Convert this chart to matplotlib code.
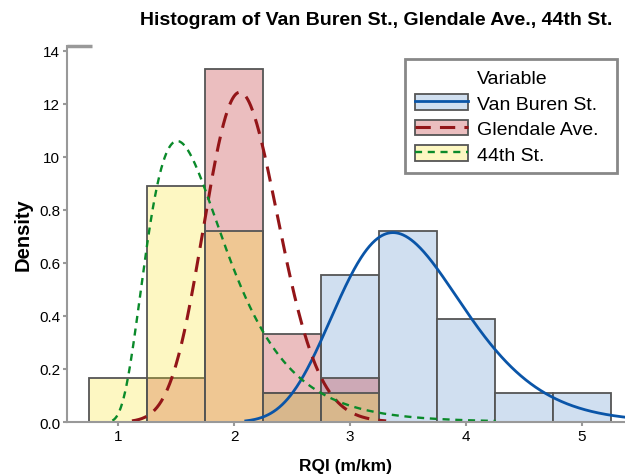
import numpy as np
import matplotlib
matplotlib.use("Agg")
import matplotlib.pyplot as plt
from matplotlib.patches import Patch
from matplotlib.lines import Line2D

plt.rcParams['font.family'] = ['Liberation Sans', 'DejaVu Sans']

# histogram bins (RQI, m/km)
bin_edges = [0.75, 1.25, 1.75, 2.25, 2.75, 3.25, 3.75, 4.25, 4.75, 5.25]

# density per bin for each road
van_buren = [0, 0, 0, 0.111, 0.556, 0.722, 0.389, 0.111, 0.111]
glendale = [0, 0.167, 1.333, 0.333, 0.167, 0, 0, 0, 0]
forty_fourth = [0.167, 0.889, 0.722, 0.111, 0.111, 0, 0, 0, 0]

# 3-parameter lognormal fits: threshold, log-location, log-scale
van_buren_fit = (0.8, 0.989, 0.2125)
glendale_fit = (-1.5, 1.275, 0.090)
forty_fourth_fit = (0.8, -0.118, 0.474)

series_names = ['Van Buren St.', 'Glendale Ave.', '44th St.']
x_ticks = [1, 2, 3, 4, 5]
y_ticks = [0.0, 0.2, 0.4, 0.6, 0.8, 1.0, 1.2, 1.4]
y_tick_labels = ['0.0', '0.2', '0.4', '0.6', '0.8', '10', '12', '14']


def lognorm3_pdf(x, fit):
    theta, mu, sigma = fit
    y = np.clip(x - theta, 1e-9, None)
    pdf = np.exp(-(np.log(y) - mu) ** 2 / (2 * sigma ** 2)) / (y * sigma * np.sqrt(2 * np.pi))
    pdf[x <= theta] = 0
    return pdf


styles = [
    dict(face=(208/255, 223/255, 240/255, 1.0), line='#0a55a8', ls='-', lw=2.0, dashes=None),
    dict(face=(200/255, 75/255, 80/255, 0.36), line='#931518', ls='--', lw=2.2, dashes=(5, 3)),
    dict(face=(251/255, 227/255, 19/255, 0.254), line='#0a8a2a', ls='--', lw=1.7, dashes=(3, 2.4)),
]

fig = plt.figure(figsize=(6.25, 4.77), dpi=100)
ax = fig.add_axes([0.1072, 0.1132, 0.8928, 0.7883])

edges = np.array(bin_edges)
widths = np.diff(edges)
for dens, st in zip([van_buren, glendale, forty_fourth], styles):
    dens = np.array(dens)
    keep = dens > 0
    ax.bar(edges[:-1][keep], dens[keep], width=widths[keep], align='edge',
           facecolor=st['face'], edgecolor='#555555', linewidth=1.3)

xs = np.linspace(0.56, 5.37, 800)
for fit, st in zip([van_buren_fit, glendale_fit, forty_fourth_fit], styles):
    pdf = lognorm3_pdf(xs, fit)
    pdf = np.where(pdf < 0.004, np.nan, pdf)
    line, = ax.plot(xs, pdf, color=st['line'], lw=st['lw'], ls=st['ls'])
    if st['dashes']:
        line.set_dashes(st['dashes'])

ax.set_xlim(0.56, 5.37)
ax.set_ylim(0, 1.418)
ax.set_xticks(x_ticks)
ax.set_yticks(y_ticks)
ax.set_yticklabels(y_tick_labels)
ax.tick_params(axis='both', direction='out', length=3, width=1.5, color='#999999',
               labelsize=11, pad=2)
for side in ['top', 'right']:
    ax.spines[side].set_visible(False)
for side in ['left', 'bottom']:
    ax.spines[side].set_color('#999999')
    ax.spines[side].set_linewidth(1.5)
ax.plot([0, 0.045], [1, 1], transform=ax.transAxes, color='#999999', lw=2.5,
        clip_on=False, solid_capstyle='butt')

ax.set_xlabel('RQI (m/km)', fontsize=12.5, fontweight='bold')
ax.set_ylabel('Density', fontsize=14.5, fontweight='bold')
ax.xaxis.set_label_coords(0.499, -0.095)
ax.yaxis.set_label_coords(-0.061, 0.5)
fig.text(0.602, 0.957, 'Histogram of Van Buren St., Glendale Ave., 44th St.',
         ha='center', va='center', fontsize=14, fontweight='bold')

handles = [Line2D([], [], color='none')]
labels = ['Variable']
for name, st in zip(series_names, styles):
    patch = Patch(facecolor=st['face'], edgecolor='#555555', linewidth=1.3)
    ln = Line2D([], [], color=st['line'], lw=st['lw'], ls=st['ls'])
    if st['dashes']:
        ln.set_dashes(st['dashes'])
    handles.append((patch, ln))
    labels.append(name)

leg = ax.legend(handles, labels, loc='upper right', mode='expand',
                bbox_to_anchor=(0.6057, 0.5, 0.38, 0.4654),
                borderaxespad=0, fontsize=14, handlelength=2.75, handleheight=0.85,
                labelspacing=0.36, handletextpad=0.45, borderpad=0.5,
                fancybox=False, framealpha=1)
leg.get_frame().set_edgecolor('#888888')
leg.get_frame().set_linewidth(2)

fig.savefig('out.png', dpi=100)
